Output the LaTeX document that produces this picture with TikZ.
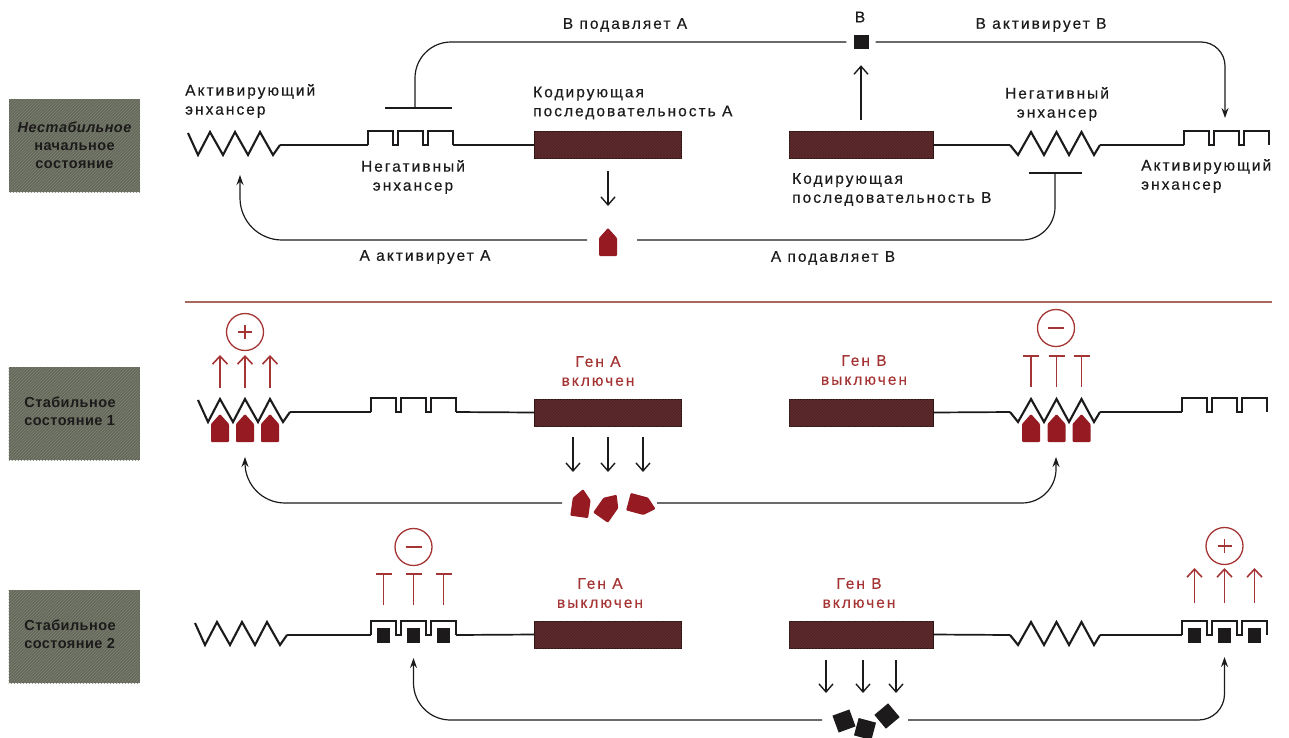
\documentclass[tikz,border=0pt]{standalone}
\usepackage{fontspec}
\setmainfont{Liberation Sans}
\newfontfamily\labfont[LetterSpace=13,FakeBold=0.4]{Liberation Sans}
\newfontfamily\tagfont[LetterSpace=3]{Liberation Sans}
\usetikzlibrary{arrows.meta,patterns}
\definecolor{ink}{RGB}{28,26,26}
\definecolor{gene}{RGB}{84,36,38}
\definecolor{genehatch}{RGB}{96,46,46}
\definecolor{geneedge}{RGB}{45,20,20}
\definecolor{prot}{RGB}{150,26,34}
\definecolor{redtxt}{RGB}{165,52,52}
\definecolor{sepcol}{RGB}{170,105,95}
\definecolor{tag}{RGB}{100,104,90}
\definecolor{taghatch}{RGB}{126,130,115}
\tikzset{
  lbl/.style={font=\labfont\fontsize{15.5}{19}\selectfont, text=ink, inner sep=0pt, align=center},
  lblw/.style={lbl, align=left, anchor=west},
  glbl/.style={lbl, text=redtxt},
  tagbox/.style={fill=tag, postaction={pattern=north east lines, pattern color=taghatch}, minimum width=131pt, minimum height=93pt, inner sep=0pt},
  tagtxt/.style={font=\tagfont\bfseries\fontsize{14.5}{18}\selectfont, text=ink, inner sep=0pt, align=center},
  dna/.style={draw=ink, line width=1.7pt},
  zigline/.style={draw=ink, line width=2.1pt, line join=miter},
  sqline/.style={draw=ink, line width=1.8pt, line join=miter},
  genebox/.style={draw=geneedge, fill=gene, postaction={pattern=north east lines, pattern color=genehatch}, line width=0.8pt, minimum height=27pt, inner sep=0pt},
  fb/.style={draw=ink, line width=1.2pt},
  fbtip/.style={-{Stealth[length=10pt,width=7pt]}},
  openarr/.style={draw=ink, line width=1.4pt, -{Straight Barb[length=8pt,width=14pt,line width=1.4pt]}},
  redarr/.style={draw=redtxt, line width=1.6pt, -{Straight Barb[length=8pt,width=15pt,line width=1.6pt]}},
  redT/.style={draw=redtxt, line width=1.7pt, -{Bar[width=16pt,line width=1.7pt]}},
  sign/.style={circle, draw=redtxt, line width=1.3pt, minimum size=37pt, inner sep=0pt},
  signline/.style={draw=redtxt, line width=1.6pt},
  bsq/.style={fill=ink, minimum width=13pt, minimum height=15pt, inner sep=0pt},
  fsq/.style={fill=ink, minimum size=18pt, inner sep=0pt},
  zigleft/.pic={
    \draw[zigline] (0,-12) -- (10,10) -- (22,-13) -- (35,10) -- (47,-13) -- (60,10) -- (72,-13) -- (85,10) -- (92,0);
    \coordinate (-e) at (92,0);
    \coordinate (-p1) at (22,0); \coordinate (-p2) at (47,0); \coordinate (-p3) at (72,0);
  },
  zigright/.pic={
    \draw[zigline] (0,0) -- (8,10) -- (21,-13) -- (34,10) -- (46.5,-13) -- (59,10) -- (71.5,-13) -- (84,10) -- (90,0);
    \coordinate (-s) at (0,0); \coordinate (-e) at (90,0);
    \coordinate (-p1) at (21,0); \coordinate (-p2) at (46.5,0); \coordinate (-p3) at (71.5,0);
  },
  sqwave/.pic={
    \draw[sqline] (0,0) -- (0,-14) -- (25,-14) -- (25,0) -- (30,0) -- (30,-14) -- (55,-14) -- (55,0) -- (60,0) -- (60,-14) -- (85,-14) -- (85,0);
    \coordinate (-s) at (0,0); \coordinate (-e) at (85,0);
    \coordinate (-b1) at (12.5,0); \coordinate (-b2) at (42.5,0); \coordinate (-b3) at (72.5,0);
  },
  house/.pic={
    \fill[prot, rounded corners=1pt] (0,-15) -- (9,-5) -- (9,13) -- (-9,13) -- (-9,-5) -- cycle;
    \coordinate (-top) at (0,-15);
  }
}
\begin{document}
\begin{tikzpicture}[x=1pt,y=-1pt]
\useasboundingbox (0,0) rectangle (1289,737);

% ---------- state tags ----------
\node[tagbox] (tag1) at (74.5,145.5) {};
\node[tagtxt] (tag1t) at (tag1.center) {{\itshape Нестабильное}\\начальное\\состояние};
\node[tagbox] (tag2) at (74,413.5) {};
\node[tagtxt, align=left] (tag2t) at (70,411) {Стабильное\\состояние 1};
\node[tagbox] (tag3) at (74,636.5) {};
\node[tagtxt, align=left] (tag3t) at (70,634) {Стабильное\\состояние 2};

% ---------- separator ----------
\coordinate (sepL) at (185,302);
\coordinate (sepR) at (1272,302);
\draw[sepcol, line width=1.4pt] (sepL) -- (sepR);

% =============== ROW 1 ===============
\pic (zL1) at (188,145) {zigleft};
\pic (sqL1) at (368,145) {sqwave};
\node[genebox, minimum width=147pt] (gA1) at (608,145) {};
\node[genebox, minimum width=144pt] (gB1) at (861,145) {};
\pic (zR1) at (1010,145) {zigright};
\pic (sqR1) at (1184,145) {sqwave};
\draw[dna] (zL1-e) -- (sqL1-s);
\draw[dna] (sqL1-e) -- (gA1.west);
\draw[dna] (gB1.east) -- (zR1-s);
\draw[dna] (zR1-e) -- (sqR1-s);

% protein A and product B
\pic (pA1) at (608,243) {house};
\node[fill=ink, minimum width=15pt, minimum height=14pt, inner sep=0pt] (sqB) at (861,42) {};
\node[lbl] (tB) at (860,17) {В};
\draw[openarr] ([yshift=-12pt]gA1.south) -- ([yshift=22pt]pA1-top);
\draw[openarr] ([yshift=11.5pt]gB1.north) -- ([yshift=-16pt]sqB.south);

% B represses A (top left)
\coordinate (barAc) at (415,108);
\coordinate (barAl) at (385,108);
\coordinate (barAr) at (452,108);
\draw[fb, rounded corners=36pt] ([xshift=-7pt]sqB.west) -| (barAc);
\draw[fb] (barAl) -- (barAr);
% B activates B (top right)
\coordinate (actB1) at (1225,118);
\draw[fb, fbtip, rounded corners=24pt] ([xshift=7pt]sqB.east) -| (actB1);
% A activates A (bottom left)
\coordinate (fbA1s) at (587,240);
\coordinate (actA1) at (240,175);
\draw[fb, fbtip, rounded corners=42pt] (fbA1s) -| (actA1);
% A represses B (bottom right)
\coordinate (fbB1s) at (637,240);
\coordinate (barBc) at (1055,173);
\coordinate (barBl) at (1029,173);
\coordinate (barBr) at (1082,173);
\draw[fb, rounded corners=33pt] (fbB1s) -| (barBc);
\draw[fb] (barBl) -- (barBr);

% labels row 1
\node[lblw] (tAct1) at (185,101) {Активирующий\\энхансер};
\node[lblw] (tCodA) at (533,103) {Кодирующая\\последовательность А};
\node[lbl] (tNeg1) at (413,177) {Негативный\\энхансер};
\node[lbl] (tNeg2) at (1057,104) {Негативный\\энхансер};
\node[lblw] (tCodB) at (792,189.5) {Кодирующая\\последовательность В};
\node[lblw] (tAct2) at (1141,176) {Активирующий\\энхансер};
\node[lbl] (tBA) at (625,25) {В подавляет А};
\node[lbl] (tBB) at (1041,25) {В активирует В};
\node[lbl] (tAA) at (425,257) {А активирует А};
\node[lbl] (tAB) at (833,258) {А подавляет В};

% =============== ROW 2 ===============
\pic (zL2) at (198,412) {zigleft};
\pic (sqL2) at (371,412) {sqwave};
\node[genebox, minimum width=147pt] (gA2) at (608,412.5) {};
\node[genebox, minimum width=144pt] (gB2) at (861,412.5) {};
\pic (zR2) at (1010,412) {zigright};
\pic (sqR2) at (1182,412) {sqwave};
\draw[dna] (zL2-e) -- (sqL2-s);
\draw[dna] (sqL2-e) -- (gA2.west);
\draw[dna] (gB2.east) -- (zR2-s);
\draw[dna] (zR2-e) -- (sqR2-s);

% bound A on activating enhancer of A / negative enhancer of B
\foreach \i in {1,2,3} {
  \pic (hL\i) at ([yshift=-17pt]zL2-p\i) {house};
  \draw[redarr] ([yshift=24pt]zL2-p\i) -- ([yshift=57pt]zL2-p\i);
  \pic (hR\i) at ([yshift=-17pt]zR2-p\i) {house};
  \draw[redT] ([yshift=25pt]zR2-p\i) -- ([yshift=57pt]zR2-p\i);
}
\node[sign] (plus2) at (245,332) {};
\draw[signline] ([xshift=-7pt]plus2.center) -- ([xshift=7pt]plus2.center);
\draw[signline] ([yshift=-7pt]plus2.center) -- ([yshift=7pt]plus2.center);
\node[sign] (minus2) at (1056,328) {};
\draw[signline] ([xshift=-8pt]minus2.center) -- ([xshift=8pt]minus2.center);

\node[glbl] (gl2A) at (598,371) {Ген А\\включен};
\node[glbl] (gl2B) at (864,370) {Ген В\\выключен};

% products A
\foreach \x/\n in {573/1,608/2,643/3} {
  \coordinate (d2s\n) at (\x,437);
  \coordinate (d2e\n) at (\x,472);
  \draw[openarr] (d2s\n) -- (d2e\n);
}
\pic[rotate=-8] (fA1) at (581,504) {house};
\pic[rotate=-35] (fA2) at (608,507) {house};
\pic[rotate=-105] (fA3) at (641,505) {house};
\coordinate (fb2Ls) at (562,503);
\coordinate (act2L) at (245,457);
\draw[fb, fbtip, rounded corners=40pt] (fb2Ls) -| (act2L);
\coordinate (fb2Rs) at (657,503);
\coordinate (act2R) at (1056,457);
\draw[fb, fbtip, rounded corners=34pt] (fb2Rs) -| (act2R);

% =============== ROW 3 ===============
\pic (zL3) at (195,635) {zigleft};
\pic (sqL3) at (371,635) {sqwave};
\node[genebox, minimum width=147pt] (gA3) at (608,634.5) {};
\node[genebox, minimum width=144pt] (gB3) at (861,634.5) {};
\pic (zR3) at (1010,635) {zigright};
\pic (sqR3) at (1182,635) {sqwave};
\draw[dna] (zL3-e) -- (sqL3-s);
\draw[dna] (sqL3-e) -- (gA3.west);
\draw[dna] (gB3.east) -- (zR3-s);
\draw[dna] (zR3-e) -- (sqR3-s);

\foreach \i in {1,2,3} {
  \node[bsq] (bL\i) at ([yshift=-0.5pt]sqL3-b\i) {};
  \draw[redT] ([yshift=30pt]sqL3-b\i) -- ([yshift=62pt]sqL3-b\i);
  \node[bsq] (bR\i) at ([yshift=-0.5pt]sqR3-b\i) {};
  \draw[redarr] ([yshift=32pt]sqR3-b\i) -- ([yshift=67pt]sqR3-b\i);
}
\node[sign] (minus3) at (413.5,547) {};
\draw[signline] ([xshift=-8pt]minus3.center) -- ([xshift=8pt]minus3.center);
\node[sign] (plus3) at (1224.5,546) {};
\draw[signline] ([xshift=-7pt]plus3.center) -- ([xshift=7pt]plus3.center);
\draw[signline] ([yshift=-7pt]plus3.center) -- ([yshift=7pt]plus3.center);

\node[glbl] (gl3A) at (600,593) {Ген А\\выключен};
\node[glbl] (gl3B) at (859,593) {Ген В\\включен};

% products B
\foreach \x/\n in {826/1,863/2,896/3} {
  \coordinate (d3s\n) at (\x,660);
  \coordinate (d3e\n) at (\x,693);
  \draw[openarr] (d3s\n) -- (d3e\n);
}
\node[fsq, rotate=20] (fB1) at (844,721) {};
\node[fsq, rotate=-15] (fB2) at (865,729) {};
\node[fsq, rotate=40] (fB3) at (887,716) {};
\coordinate (fb3Ls) at (822,720);
\coordinate (act3L) at (413.5,658);
\draw[fb, fbtip, rounded corners=37pt] (fb3Ls) -| (act3L);
\coordinate (fb3Rs) at (908,720);
\coordinate (act3R) at (1224.5,657);
\draw[fb, fbtip, rounded corners=26pt] (fb3Rs) -| (act3R);
\end{tikzpicture}
\end{document}
